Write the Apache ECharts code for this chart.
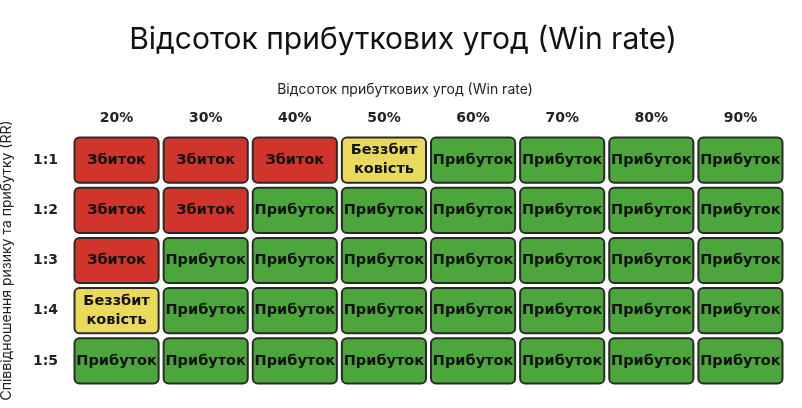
<!DOCTYPE html>
<html>
<head>
<meta charset="utf-8">
<script src="https://cdn.jsdelivr.net/npm/echarts@6/dist/echarts.min.js"></script>
<style>html,body{margin:0;padding:0;background:#fff}#main{width:802px;height:408px}</style>
</head>
<body>
<div id="main"></div>
<script>
// дані
var winRates = ['20%', '30%', '40%', '50%', '60%', '70%', '80%', '90%'];
var ratios = ['1:1', '1:2', '1:3', '1:4', '1:5'];
// 0 = Збиток, 1 = Беззбитковість, 2 = Прибуток
var row11 = [0, 0, 0, 1, 2, 2, 2, 2];
var row12 = [0, 0, 2, 2, 2, 2, 2, 2];
var row13 = [0, 2, 2, 2, 2, 2, 2, 2];
var row14 = [1, 2, 2, 2, 2, 2, 2, 2];
var row15 = [2, 2, 2, 2, 2, 2, 2, 2];
var outcomeLabels = ['Збиток', 'Беззбит\nковість', 'Прибуток'];
var outcomeColors = ['#d0342b', '#e9da5c', '#4ca63b'];

var rows = [row11, row12, row13, row14, row15];
var data = [];
rows.forEach(function (r, yi) {
    r.forEach(function (v, xi) { data.push([xi, yi, v]); });
});

var myChart = echarts.init(document.getElementById('main'));
myChart.setOption({
    title: [{
        text: 'Відсоток прибуткових угод (Win rate)',
        left: 398, top: 20, textAlign: 'center',
        textStyle: { fontFamily: 'Inter', fontSize: 30, fontWeight: 'normal', color: '#111' }
    }, {
        text: 'Відсоток прибуткових угод (Win rate)',
        left: 400, top: 78, textAlign: 'center',
        textStyle: { fontFamily: 'Inter', fontSize: 14, fontWeight: 'normal', color: '#222' }
    }],
    grid: { left: 72, right: 17, top: 135, bottom: 22, containLabel: false, outerBoundsMode: 'none' },
    xAxis: {
        type: 'category', data: winRates, position: 'top',
        axisLine: { show: false }, axisTick: { show: false },
        axisLabel: { fontFamily: 'DejaVu Sans', fontWeight: 'bold', fontSize: 14, color: '#222', margin: 10 }
    },
    yAxis: {
        type: 'category', data: ratios, inverse: true,
        name: 'Співвідношення ризику та прибутку (RR)',
        nameLocation: 'middle', nameGap: 58, nameRotate: 90,
        nameTextStyle: { fontFamily: 'Inter', fontSize: 14, color: '#222' },
        axisLine: { show: false }, axisTick: { show: false },
        axisLabel: { fontFamily: 'DejaVu Sans', fontWeight: 'bold', fontSize: 14, color: '#222', margin: 14 }
    },
    series: [{
        type: 'custom',
        data: data,
        renderItem: function (params, api) {
            var c = api.coord([api.value(0), api.value(1)]);
            var s = api.size([1, 1]);
            var v = api.value(2);
            var w = s[0] - 5, h = s[1] - 5;
            return {
                type: 'rect',
                shape: { x: c[0] - w / 2, y: c[1] - h / 2, width: w, height: h, r: 5 },
                style: { fill: outcomeColors[v], stroke: '#2a2a2a', lineWidth: 2 },
                textContent: {
                    style: {
                        text: outcomeLabels[v], fill: '#111', fontFamily: 'DejaVu Sans',
                        fontWeight: 'bold', fontSize: 14.5, lineHeight: 19, align: 'center'
                    }
                },
                textConfig: { position: 'inside' }
            };
        }
    }]
});
</script>
</body>
</html>
